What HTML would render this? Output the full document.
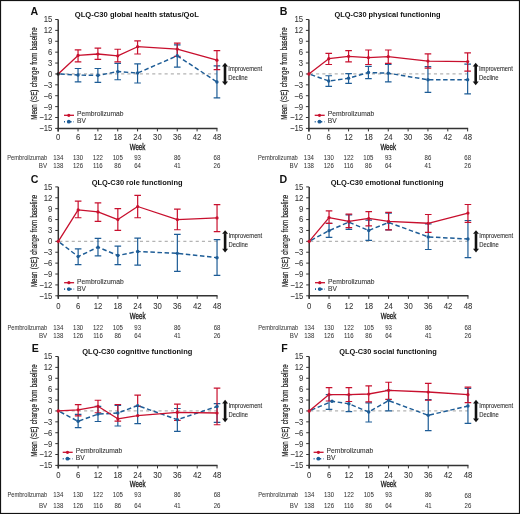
<!DOCTYPE html>
<html><head><meta charset="utf-8"><style>
html,body{margin:0;padding:0;background:#fff;}
body{width:520px;height:514px;overflow:hidden;}
svg{display:block;font-family:"Liberation Sans",sans-serif;will-change:transform;filter:blur(0.3px);}
</style></head><body>
<svg width="520" height="514" viewBox="0 0 520 514">
<rect x="0" y="0" width="520" height="514" fill="#fff"/>
<text x="30.60" y="15.00" font-size="10.6" font-weight="bold" fill="#111" textLength="7.66" lengthAdjust="spacingAndGlyphs">A</text>
<text x="74.80" y="17.40" font-size="7.6" font-weight="bold" fill="#111" textLength="124.00" lengthAdjust="spacingAndGlyphs">QLQ-C30 global health status/QoL</text>
<path d="M58.20 19.50V131.40" stroke="#333333" stroke-width="1.5" fill="none"/>
<path d="M55.20 128.40H58.20" stroke="#333333" stroke-width="1" fill="none"/>
<text x="39.18" y="131.30" font-size="8.6" fill="#333" stroke="#333" stroke-width="0.06" textLength="13.13" lengthAdjust="spacingAndGlyphs">−15</text>
<path d="M55.20 117.51H58.20" stroke="#333333" stroke-width="1" fill="none"/>
<text x="39.18" y="120.41" font-size="8.6" fill="#333" stroke="#333" stroke-width="0.06" textLength="13.13" lengthAdjust="spacingAndGlyphs">−12</text>
<path d="M55.20 106.62H58.20" stroke="#333333" stroke-width="1" fill="none"/>
<text x="43.48" y="109.52" font-size="8.6" fill="#333" stroke="#333" stroke-width="0.06" textLength="8.82" lengthAdjust="spacingAndGlyphs">−9</text>
<path d="M55.20 95.73H58.20" stroke="#333333" stroke-width="1" fill="none"/>
<text x="43.48" y="98.63" font-size="8.6" fill="#333" stroke="#333" stroke-width="0.06" textLength="8.82" lengthAdjust="spacingAndGlyphs">−6</text>
<path d="M55.20 84.84H58.20" stroke="#333333" stroke-width="1" fill="none"/>
<text x="43.48" y="87.74" font-size="8.6" fill="#333" stroke="#333" stroke-width="0.06" textLength="8.82" lengthAdjust="spacingAndGlyphs">−3</text>
<path d="M55.20 73.95H58.20" stroke="#333333" stroke-width="1" fill="none"/>
<text x="48.00" y="76.85" font-size="8.6" fill="#333" stroke="#333" stroke-width="0.06" textLength="4.30" lengthAdjust="spacingAndGlyphs">0</text>
<path d="M55.20 63.06H58.20" stroke="#333333" stroke-width="1" fill="none"/>
<text x="48.00" y="65.96" font-size="8.6" fill="#333" stroke="#333" stroke-width="0.06" textLength="4.30" lengthAdjust="spacingAndGlyphs">3</text>
<path d="M55.20 52.17H58.20" stroke="#333333" stroke-width="1" fill="none"/>
<text x="48.00" y="55.07" font-size="8.6" fill="#333" stroke="#333" stroke-width="0.06" textLength="4.30" lengthAdjust="spacingAndGlyphs">6</text>
<path d="M55.20 41.28H58.20" stroke="#333333" stroke-width="1" fill="none"/>
<text x="48.00" y="44.18" font-size="8.6" fill="#333" stroke="#333" stroke-width="0.06" textLength="4.30" lengthAdjust="spacingAndGlyphs">9</text>
<path d="M55.20 30.39H58.20" stroke="#333333" stroke-width="1" fill="none"/>
<text x="43.71" y="33.29" font-size="8.6" fill="#333" stroke="#333" stroke-width="0.06" textLength="8.61" lengthAdjust="spacingAndGlyphs">12</text>
<path d="M55.20 19.50H58.20" stroke="#333333" stroke-width="1" fill="none"/>
<text x="43.71" y="22.40" font-size="8.6" fill="#333" stroke="#333" stroke-width="0.06" textLength="8.61" lengthAdjust="spacingAndGlyphs">15</text>
<g transform="translate(36.70,73.50) rotate(-90)">
<text x="-46.15" y="0.00" font-size="9.3" fill="#1a1a1a" stroke="#1a1a1a" stroke-width="0.18" textLength="92.29" lengthAdjust="spacingAndGlyphs" word-spacing="1">Mean (SE) change from baseline</text>
</g>
<path d="M57.45 128.40H217.44" stroke="#333333" stroke-width="1.5" fill="none"/>
<path d="M58.20 128.40V131.40" stroke="#333333" stroke-width="1" fill="none"/>
<text x="56.05" y="139.80" font-size="8.6" fill="#333" stroke="#333" stroke-width="0.06" textLength="4.30" lengthAdjust="spacingAndGlyphs">0</text>
<path d="M78.04 128.40V131.40" stroke="#333333" stroke-width="1" fill="none"/>
<text x="75.89" y="139.80" font-size="8.6" fill="#333" stroke="#333" stroke-width="0.06" textLength="4.30" lengthAdjust="spacingAndGlyphs">6</text>
<path d="M97.88 128.40V131.40" stroke="#333333" stroke-width="1" fill="none"/>
<text x="93.59" y="139.80" font-size="8.6" fill="#333" stroke="#333" stroke-width="0.06" textLength="8.61" lengthAdjust="spacingAndGlyphs">12</text>
<path d="M117.73 128.40V131.40" stroke="#333333" stroke-width="1" fill="none"/>
<text x="113.43" y="139.80" font-size="8.6" fill="#333" stroke="#333" stroke-width="0.06" textLength="8.61" lengthAdjust="spacingAndGlyphs">18</text>
<path d="M137.57 128.40V131.40" stroke="#333333" stroke-width="1" fill="none"/>
<text x="133.27" y="139.80" font-size="8.6" fill="#333" stroke="#333" stroke-width="0.06" textLength="8.61" lengthAdjust="spacingAndGlyphs">24</text>
<path d="M157.41 128.40V131.40" stroke="#333333" stroke-width="1" fill="none"/>
<text x="153.11" y="139.80" font-size="8.6" fill="#333" stroke="#333" stroke-width="0.06" textLength="8.61" lengthAdjust="spacingAndGlyphs">30</text>
<path d="M177.25 128.40V131.40" stroke="#333333" stroke-width="1" fill="none"/>
<text x="172.96" y="139.80" font-size="8.6" fill="#333" stroke="#333" stroke-width="0.06" textLength="8.61" lengthAdjust="spacingAndGlyphs">36</text>
<path d="M197.09 128.40V131.40" stroke="#333333" stroke-width="1" fill="none"/>
<text x="192.80" y="139.80" font-size="8.6" fill="#333" stroke="#333" stroke-width="0.06" textLength="8.61" lengthAdjust="spacingAndGlyphs">42</text>
<path d="M216.94 128.40V131.40" stroke="#333333" stroke-width="1" fill="none"/>
<text x="212.64" y="139.80" font-size="8.6" fill="#333" stroke="#333" stroke-width="0.06" textLength="8.61" lengthAdjust="spacingAndGlyphs">48</text>
<text x="129.72" y="149.50" font-size="9.4" fill="#111" stroke="#111" stroke-width="0.3" textLength="15.66" lengthAdjust="spacingAndGlyphs">Week</text>
<text x="7.30" y="159.70" font-size="6.9" fill="#333" stroke="#333" stroke-width="0.03" textLength="39.79" lengthAdjust="spacingAndGlyphs">Pembrolizumab</text>
<text x="38.81" y="168.10" font-size="6.9" fill="#333" stroke="#333" stroke-width="0.03" textLength="8.28" lengthAdjust="spacingAndGlyphs">BV</text>
<text x="53.13" y="159.70" font-size="6.9" fill="#333" stroke="#333" stroke-width="0.03" textLength="10.13" lengthAdjust="spacingAndGlyphs">134</text>
<text x="53.13" y="168.10" font-size="6.9" fill="#333" stroke="#333" stroke-width="0.03" textLength="10.13" lengthAdjust="spacingAndGlyphs">138</text>
<text x="72.97" y="159.70" font-size="6.9" fill="#333" stroke="#333" stroke-width="0.03" textLength="10.13" lengthAdjust="spacingAndGlyphs">130</text>
<text x="72.97" y="168.10" font-size="6.9" fill="#333" stroke="#333" stroke-width="0.03" textLength="10.13" lengthAdjust="spacingAndGlyphs">126</text>
<text x="92.81" y="159.70" font-size="6.9" fill="#333" stroke="#333" stroke-width="0.03" textLength="10.13" lengthAdjust="spacingAndGlyphs">122</text>
<text x="93.04" y="168.10" font-size="6.9" fill="#333" stroke="#333" stroke-width="0.03" textLength="9.68" lengthAdjust="spacingAndGlyphs">116</text>
<text x="112.66" y="159.70" font-size="6.9" fill="#333" stroke="#333" stroke-width="0.03" textLength="10.13" lengthAdjust="spacingAndGlyphs">105</text>
<text x="114.36" y="168.10" font-size="6.9" fill="#333" stroke="#333" stroke-width="0.03" textLength="6.75" lengthAdjust="spacingAndGlyphs">86</text>
<text x="134.20" y="159.70" font-size="6.9" fill="#333" stroke="#333" stroke-width="0.03" textLength="6.75" lengthAdjust="spacingAndGlyphs">93</text>
<text x="134.20" y="168.10" font-size="6.9" fill="#333" stroke="#333" stroke-width="0.03" textLength="6.75" lengthAdjust="spacingAndGlyphs">64</text>
<text x="173.88" y="159.70" font-size="6.9" fill="#333" stroke="#333" stroke-width="0.03" textLength="6.75" lengthAdjust="spacingAndGlyphs">86</text>
<text x="173.88" y="168.10" font-size="6.9" fill="#333" stroke="#333" stroke-width="0.03" textLength="6.75" lengthAdjust="spacingAndGlyphs">41</text>
<text x="213.57" y="159.70" font-size="6.9" fill="#333" stroke="#333" stroke-width="0.03" textLength="6.75" lengthAdjust="spacingAndGlyphs">68</text>
<text x="213.57" y="168.10" font-size="6.9" fill="#333" stroke="#333" stroke-width="0.03" textLength="6.75" lengthAdjust="spacingAndGlyphs">26</text>
<path d="M59.20 73.95H216.94" stroke="#b4b4b4" stroke-width="1.3" stroke-dasharray="3.1 3.1" fill="none"/>
<path d="M225.00 65.95V81.95" stroke="#111" stroke-width="2.6" fill="none"/>
<path d="M222.00 66.45L225.00 62.75L228.00 66.45Z" fill="#111"/>
<path d="M222.00 81.45L225.00 85.15L228.00 81.45Z" fill="#111"/>
<text x="228.30" y="70.95" font-size="6.4" fill="#333" stroke="#333" stroke-width="0.1" textLength="33.80" lengthAdjust="spacingAndGlyphs">Improvement</text>
<text x="228.30" y="79.95" font-size="6.4" fill="#333" stroke="#333" stroke-width="0.1" textLength="19.60" lengthAdjust="spacingAndGlyphs">Decline</text>
<path d="M64.00 115.30h10" stroke="#c8102e" stroke-width="1.3"/>
<circle cx="68.80" cy="115.30" r="1.6" fill="#c8102e"/>
<path d="M64.00 121.70h10" stroke="#1d5c96" stroke-width="1.6" stroke-dasharray="1 2 4.6 2 1"/>
<circle cx="68.80" cy="121.70" r="1.9" fill="#1d5c96"/>
<text x="77.00" y="116.20" font-size="7.7" fill="#333" stroke="#333" stroke-width="0.1" textLength="46.58" lengthAdjust="spacingAndGlyphs">Pembrolizumab</text>
<text x="77.00" y="123.20" font-size="7.7" fill="#333" stroke="#333" stroke-width="0.1" textLength="8.89" lengthAdjust="spacingAndGlyphs">BV</text>
<path d="M78.04 68.50V81.94M74.74 68.50h6.6M74.74 81.94h6.6" stroke="#1d5c96" stroke-width="1.2" fill="none"/><path d="M97.88 68.50V82.30M94.58 68.50h6.6M94.58 82.30h6.6" stroke="#1d5c96" stroke-width="1.2" fill="none"/><path d="M117.73 63.42V79.76M114.43 63.42h6.6M114.43 79.76h6.6" stroke="#1d5c96" stroke-width="1.2" fill="none"/><path d="M137.57 63.79V83.02M134.27 63.79h6.6M134.27 83.02h6.6" stroke="#1d5c96" stroke-width="1.2" fill="none"/><path d="M177.25 44.91V67.05M173.95 44.91h6.6M173.95 67.05h6.6" stroke="#1d5c96" stroke-width="1.2" fill="none"/><path d="M216.94 65.96V97.91M213.64 65.96h6.6M213.64 97.91h6.6" stroke="#1d5c96" stroke-width="1.2" fill="none"/><path d="M78.04 49.81V61.97M74.74 49.81h6.6M74.74 61.97h6.6" stroke="#c8102e" stroke-width="1.2" fill="none"/><path d="M97.88 48.18V59.43M94.58 48.18h6.6M94.58 59.43h6.6" stroke="#c8102e" stroke-width="1.2" fill="none"/><path d="M117.73 49.27V61.97M114.43 49.27h6.6M114.43 61.97h6.6" stroke="#c8102e" stroke-width="1.2" fill="none"/><path d="M137.57 40.92V53.98M134.27 40.92h6.6M134.27 53.98h6.6" stroke="#c8102e" stroke-width="1.2" fill="none"/><path d="M177.25 43.09V56.34M173.95 43.09h6.6M173.95 56.34h6.6" stroke="#c8102e" stroke-width="1.2" fill="none"/><path d="M216.94 50.72V69.59M213.64 50.72h6.6M213.64 69.59h6.6" stroke="#c8102e" stroke-width="1.2" fill="none"/><path d="M58.20 73.95 L78.04 75.04 L97.88 75.40 L117.73 71.59 L137.57 73.04 L177.25 55.80 L216.94 81.94" stroke="#1d5c96" stroke-width="1.45" fill="none" stroke-dasharray="4.5 2.6" stroke-dashoffset="5.0" stroke-linejoin="round"/><path d="M58.20 73.95 L78.04 55.44 L97.88 53.98 L117.73 55.80 L137.57 46.72 L177.25 49.08 L216.94 60.16" stroke="#c8102e" stroke-width="1.3" fill="none" stroke-linejoin="round"/><circle cx="78.04" cy="75.04" r="1.7" fill="#1d5c96"/><circle cx="97.88" cy="75.40" r="1.7" fill="#1d5c96"/><circle cx="117.73" cy="71.59" r="1.7" fill="#1d5c96"/><circle cx="137.57" cy="73.04" r="1.7" fill="#1d5c96"/><circle cx="177.25" cy="55.80" r="1.7" fill="#1d5c96"/><circle cx="216.94" cy="81.94" r="1.7" fill="#1d5c96"/><circle cx="78.04" cy="55.44" r="1.6" fill="#c8102e"/><circle cx="97.88" cy="53.98" r="1.6" fill="#c8102e"/><circle cx="117.73" cy="55.80" r="1.6" fill="#c8102e"/><circle cx="137.57" cy="46.72" r="1.6" fill="#c8102e"/><circle cx="177.25" cy="49.08" r="1.6" fill="#c8102e"/><circle cx="216.94" cy="60.16" r="1.6" fill="#c8102e"/>
<circle cx="58.20" cy="73.95" r="1.7" fill="#222"/>
<text x="279.70" y="15.00" font-size="10.6" font-weight="bold" fill="#111" textLength="7.66" lengthAdjust="spacingAndGlyphs">B</text>
<text x="334.50" y="17.40" font-size="7.6" font-weight="bold" fill="#111" textLength="106.00" lengthAdjust="spacingAndGlyphs">QLQ-C30 physical functioning</text>
<path d="M308.90 19.50V131.40" stroke="#333333" stroke-width="1.5" fill="none"/>
<path d="M305.90 128.40H308.90" stroke="#333333" stroke-width="1" fill="none"/>
<text x="289.88" y="131.30" font-size="8.6" fill="#333" stroke="#333" stroke-width="0.06" textLength="13.13" lengthAdjust="spacingAndGlyphs">−15</text>
<path d="M305.90 117.51H308.90" stroke="#333333" stroke-width="1" fill="none"/>
<text x="289.88" y="120.41" font-size="8.6" fill="#333" stroke="#333" stroke-width="0.06" textLength="13.13" lengthAdjust="spacingAndGlyphs">−12</text>
<path d="M305.90 106.62H308.90" stroke="#333333" stroke-width="1" fill="none"/>
<text x="294.18" y="109.52" font-size="8.6" fill="#333" stroke="#333" stroke-width="0.06" textLength="8.82" lengthAdjust="spacingAndGlyphs">−9</text>
<path d="M305.90 95.73H308.90" stroke="#333333" stroke-width="1" fill="none"/>
<text x="294.18" y="98.63" font-size="8.6" fill="#333" stroke="#333" stroke-width="0.06" textLength="8.82" lengthAdjust="spacingAndGlyphs">−6</text>
<path d="M305.90 84.84H308.90" stroke="#333333" stroke-width="1" fill="none"/>
<text x="294.18" y="87.74" font-size="8.6" fill="#333" stroke="#333" stroke-width="0.06" textLength="8.82" lengthAdjust="spacingAndGlyphs">−3</text>
<path d="M305.90 73.95H308.90" stroke="#333333" stroke-width="1" fill="none"/>
<text x="298.70" y="76.85" font-size="8.6" fill="#333" stroke="#333" stroke-width="0.06" textLength="4.30" lengthAdjust="spacingAndGlyphs">0</text>
<path d="M305.90 63.06H308.90" stroke="#333333" stroke-width="1" fill="none"/>
<text x="298.70" y="65.96" font-size="8.6" fill="#333" stroke="#333" stroke-width="0.06" textLength="4.30" lengthAdjust="spacingAndGlyphs">3</text>
<path d="M305.90 52.17H308.90" stroke="#333333" stroke-width="1" fill="none"/>
<text x="298.70" y="55.07" font-size="8.6" fill="#333" stroke="#333" stroke-width="0.06" textLength="4.30" lengthAdjust="spacingAndGlyphs">6</text>
<path d="M305.90 41.28H308.90" stroke="#333333" stroke-width="1" fill="none"/>
<text x="298.70" y="44.18" font-size="8.6" fill="#333" stroke="#333" stroke-width="0.06" textLength="4.30" lengthAdjust="spacingAndGlyphs">9</text>
<path d="M305.90 30.39H308.90" stroke="#333333" stroke-width="1" fill="none"/>
<text x="294.41" y="33.29" font-size="8.6" fill="#333" stroke="#333" stroke-width="0.06" textLength="8.61" lengthAdjust="spacingAndGlyphs">12</text>
<path d="M305.90 19.50H308.90" stroke="#333333" stroke-width="1" fill="none"/>
<text x="294.41" y="22.40" font-size="8.6" fill="#333" stroke="#333" stroke-width="0.06" textLength="8.61" lengthAdjust="spacingAndGlyphs">15</text>
<g transform="translate(287.40,73.50) rotate(-90)">
<text x="-46.15" y="0.00" font-size="9.3" fill="#1a1a1a" stroke="#1a1a1a" stroke-width="0.18" textLength="92.29" lengthAdjust="spacingAndGlyphs" word-spacing="1">Mean (SE) change from baseline</text>
</g>
<path d="M308.15 128.40H468.14" stroke="#333333" stroke-width="1.5" fill="none"/>
<path d="M308.90 128.40V131.40" stroke="#333333" stroke-width="1" fill="none"/>
<text x="306.75" y="139.80" font-size="8.6" fill="#333" stroke="#333" stroke-width="0.06" textLength="4.30" lengthAdjust="spacingAndGlyphs">0</text>
<path d="M328.74 128.40V131.40" stroke="#333333" stroke-width="1" fill="none"/>
<text x="326.59" y="139.80" font-size="8.6" fill="#333" stroke="#333" stroke-width="0.06" textLength="4.30" lengthAdjust="spacingAndGlyphs">6</text>
<path d="M348.58 128.40V131.40" stroke="#333333" stroke-width="1" fill="none"/>
<text x="344.29" y="139.80" font-size="8.6" fill="#333" stroke="#333" stroke-width="0.06" textLength="8.61" lengthAdjust="spacingAndGlyphs">12</text>
<path d="M368.43 128.40V131.40" stroke="#333333" stroke-width="1" fill="none"/>
<text x="364.13" y="139.80" font-size="8.6" fill="#333" stroke="#333" stroke-width="0.06" textLength="8.61" lengthAdjust="spacingAndGlyphs">18</text>
<path d="M388.27 128.40V131.40" stroke="#333333" stroke-width="1" fill="none"/>
<text x="383.97" y="139.80" font-size="8.6" fill="#333" stroke="#333" stroke-width="0.06" textLength="8.61" lengthAdjust="spacingAndGlyphs">24</text>
<path d="M408.11 128.40V131.40" stroke="#333333" stroke-width="1" fill="none"/>
<text x="403.81" y="139.80" font-size="8.6" fill="#333" stroke="#333" stroke-width="0.06" textLength="8.61" lengthAdjust="spacingAndGlyphs">30</text>
<path d="M427.95 128.40V131.40" stroke="#333333" stroke-width="1" fill="none"/>
<text x="423.66" y="139.80" font-size="8.6" fill="#333" stroke="#333" stroke-width="0.06" textLength="8.61" lengthAdjust="spacingAndGlyphs">36</text>
<path d="M447.79 128.40V131.40" stroke="#333333" stroke-width="1" fill="none"/>
<text x="443.50" y="139.80" font-size="8.6" fill="#333" stroke="#333" stroke-width="0.06" textLength="8.61" lengthAdjust="spacingAndGlyphs">42</text>
<path d="M467.64 128.40V131.40" stroke="#333333" stroke-width="1" fill="none"/>
<text x="463.34" y="139.80" font-size="8.6" fill="#333" stroke="#333" stroke-width="0.06" textLength="8.61" lengthAdjust="spacingAndGlyphs">48</text>
<text x="380.42" y="149.50" font-size="9.4" fill="#111" stroke="#111" stroke-width="0.3" textLength="15.66" lengthAdjust="spacingAndGlyphs">Week</text>
<text x="258.00" y="159.70" font-size="6.9" fill="#333" stroke="#333" stroke-width="0.03" textLength="39.79" lengthAdjust="spacingAndGlyphs">Pembrolizumab</text>
<text x="289.51" y="168.10" font-size="6.9" fill="#333" stroke="#333" stroke-width="0.03" textLength="8.28" lengthAdjust="spacingAndGlyphs">BV</text>
<text x="303.83" y="159.70" font-size="6.9" fill="#333" stroke="#333" stroke-width="0.03" textLength="10.13" lengthAdjust="spacingAndGlyphs">134</text>
<text x="303.83" y="168.10" font-size="6.9" fill="#333" stroke="#333" stroke-width="0.03" textLength="10.13" lengthAdjust="spacingAndGlyphs">138</text>
<text x="323.67" y="159.70" font-size="6.9" fill="#333" stroke="#333" stroke-width="0.03" textLength="10.13" lengthAdjust="spacingAndGlyphs">130</text>
<text x="323.67" y="168.10" font-size="6.9" fill="#333" stroke="#333" stroke-width="0.03" textLength="10.13" lengthAdjust="spacingAndGlyphs">126</text>
<text x="343.51" y="159.70" font-size="6.9" fill="#333" stroke="#333" stroke-width="0.03" textLength="10.13" lengthAdjust="spacingAndGlyphs">122</text>
<text x="343.74" y="168.10" font-size="6.9" fill="#333" stroke="#333" stroke-width="0.03" textLength="9.68" lengthAdjust="spacingAndGlyphs">116</text>
<text x="363.36" y="159.70" font-size="6.9" fill="#333" stroke="#333" stroke-width="0.03" textLength="10.13" lengthAdjust="spacingAndGlyphs">105</text>
<text x="365.06" y="168.10" font-size="6.9" fill="#333" stroke="#333" stroke-width="0.03" textLength="6.75" lengthAdjust="spacingAndGlyphs">86</text>
<text x="384.90" y="159.70" font-size="6.9" fill="#333" stroke="#333" stroke-width="0.03" textLength="6.75" lengthAdjust="spacingAndGlyphs">93</text>
<text x="384.90" y="168.10" font-size="6.9" fill="#333" stroke="#333" stroke-width="0.03" textLength="6.75" lengthAdjust="spacingAndGlyphs">64</text>
<text x="424.58" y="159.70" font-size="6.9" fill="#333" stroke="#333" stroke-width="0.03" textLength="6.75" lengthAdjust="spacingAndGlyphs">86</text>
<text x="424.58" y="168.10" font-size="6.9" fill="#333" stroke="#333" stroke-width="0.03" textLength="6.75" lengthAdjust="spacingAndGlyphs">41</text>
<text x="464.27" y="159.70" font-size="6.9" fill="#333" stroke="#333" stroke-width="0.03" textLength="6.75" lengthAdjust="spacingAndGlyphs">68</text>
<text x="464.27" y="168.10" font-size="6.9" fill="#333" stroke="#333" stroke-width="0.03" textLength="6.75" lengthAdjust="spacingAndGlyphs">26</text>
<path d="M309.90 73.95H467.64" stroke="#b4b4b4" stroke-width="1.3" stroke-dasharray="3.1 3.1" fill="none"/>
<path d="M475.70 65.95V81.95" stroke="#111" stroke-width="2.6" fill="none"/>
<path d="M472.70 66.45L475.70 62.75L478.70 66.45Z" fill="#111"/>
<path d="M472.70 81.45L475.70 85.15L478.70 81.45Z" fill="#111"/>
<text x="479.00" y="70.95" font-size="6.4" fill="#333" stroke="#333" stroke-width="0.1" textLength="33.80" lengthAdjust="spacingAndGlyphs">Improvement</text>
<text x="479.00" y="79.95" font-size="6.4" fill="#333" stroke="#333" stroke-width="0.1" textLength="19.60" lengthAdjust="spacingAndGlyphs">Decline</text>
<path d="M314.70 115.30h10" stroke="#c8102e" stroke-width="1.3"/>
<circle cx="319.50" cy="115.30" r="1.6" fill="#c8102e"/>
<path d="M314.70 121.70h10" stroke="#1d5c96" stroke-width="1.6" stroke-dasharray="1 2 4.6 2 1"/>
<circle cx="319.50" cy="121.70" r="1.9" fill="#1d5c96"/>
<text x="327.70" y="116.20" font-size="7.7" fill="#333" stroke="#333" stroke-width="0.1" textLength="46.58" lengthAdjust="spacingAndGlyphs">Pembrolizumab</text>
<text x="327.70" y="123.20" font-size="7.7" fill="#333" stroke="#333" stroke-width="0.1" textLength="8.89" lengthAdjust="spacingAndGlyphs">BV</text>
<path d="M328.74 75.76V86.29M325.44 75.76h6.6M325.44 86.29h6.6" stroke="#1d5c96" stroke-width="1.2" fill="none"/><path d="M348.58 73.59V83.39M345.28 73.59h6.6M345.28 83.39h6.6" stroke="#1d5c96" stroke-width="1.2" fill="none"/><path d="M368.43 66.33V78.67M365.13 66.33h6.6M365.13 78.67h6.6" stroke="#1d5c96" stroke-width="1.2" fill="none"/><path d="M388.27 64.51V81.94M384.97 64.51h6.6M384.97 81.94h6.6" stroke="#1d5c96" stroke-width="1.2" fill="none"/><path d="M427.95 66.69V92.46M424.65 66.69h6.6M424.65 92.46h6.6" stroke="#1d5c96" stroke-width="1.2" fill="none"/><path d="M467.64 64.15V93.91M464.34 64.15h6.6M464.34 93.91h6.6" stroke="#1d5c96" stroke-width="1.2" fill="none"/><path d="M328.74 53.44V64.51M325.44 53.44h6.6M325.44 64.51h6.6" stroke="#c8102e" stroke-width="1.2" fill="none"/><path d="M348.58 50.54V61.97M345.28 50.54h6.6M345.28 61.97h6.6" stroke="#c8102e" stroke-width="1.2" fill="none"/><path d="M368.43 49.99V64.51M365.13 49.99h6.6M365.13 64.51h6.6" stroke="#c8102e" stroke-width="1.2" fill="none"/><path d="M388.27 49.99V63.42M384.97 49.99h6.6M384.97 63.42h6.6" stroke="#c8102e" stroke-width="1.2" fill="none"/><path d="M427.95 53.80V68.14M424.65 53.80h6.6M424.65 68.14h6.6" stroke="#c8102e" stroke-width="1.2" fill="none"/><path d="M467.64 52.90V71.05M464.34 52.90h6.6M464.34 71.05h6.6" stroke="#c8102e" stroke-width="1.2" fill="none"/><path d="M308.90 73.95 L328.74 81.03 L348.58 78.31 L368.43 72.50 L388.27 73.22 L427.95 79.76 L467.64 79.76" stroke="#1d5c96" stroke-width="1.45" fill="none" stroke-dasharray="4.5 2.6" stroke-dashoffset="5.0" stroke-linejoin="round"/><path d="M308.90 73.95 L328.74 58.70 L348.58 56.34 L368.43 57.61 L388.27 56.53 L427.95 61.06 L467.64 61.61" stroke="#c8102e" stroke-width="1.3" fill="none" stroke-linejoin="round"/><circle cx="328.74" cy="81.03" r="1.7" fill="#1d5c96"/><circle cx="348.58" cy="78.31" r="1.7" fill="#1d5c96"/><circle cx="368.43" cy="72.50" r="1.7" fill="#1d5c96"/><circle cx="388.27" cy="73.22" r="1.7" fill="#1d5c96"/><circle cx="427.95" cy="79.76" r="1.7" fill="#1d5c96"/><circle cx="467.64" cy="79.76" r="1.7" fill="#1d5c96"/><circle cx="328.74" cy="58.70" r="1.6" fill="#c8102e"/><circle cx="348.58" cy="56.34" r="1.6" fill="#c8102e"/><circle cx="368.43" cy="57.61" r="1.6" fill="#c8102e"/><circle cx="388.27" cy="56.53" r="1.6" fill="#c8102e"/><circle cx="427.95" cy="61.06" r="1.6" fill="#c8102e"/><circle cx="467.64" cy="61.61" r="1.6" fill="#c8102e"/>
<circle cx="308.90" cy="73.95" r="1.7" fill="#c8102e"/>
<text x="30.80" y="182.60" font-size="10.6" font-weight="bold" fill="#111" textLength="7.66" lengthAdjust="spacingAndGlyphs">C</text>
<text x="91.70" y="184.80" font-size="7.6" font-weight="bold" fill="#111" textLength="90.81" lengthAdjust="spacingAndGlyphs">QLQ-C30 role functioning</text>
<path d="M58.30 186.90V298.80" stroke="#333333" stroke-width="1.5" fill="none"/>
<path d="M55.30 295.80H58.30" stroke="#333333" stroke-width="1" fill="none"/>
<text x="39.28" y="298.70" font-size="8.6" fill="#333" stroke="#333" stroke-width="0.06" textLength="13.13" lengthAdjust="spacingAndGlyphs">−15</text>
<path d="M55.30 284.91H58.30" stroke="#333333" stroke-width="1" fill="none"/>
<text x="39.28" y="287.81" font-size="8.6" fill="#333" stroke="#333" stroke-width="0.06" textLength="13.13" lengthAdjust="spacingAndGlyphs">−12</text>
<path d="M55.30 274.02H58.30" stroke="#333333" stroke-width="1" fill="none"/>
<text x="43.58" y="276.92" font-size="8.6" fill="#333" stroke="#333" stroke-width="0.06" textLength="8.82" lengthAdjust="spacingAndGlyphs">−9</text>
<path d="M55.30 263.13H58.30" stroke="#333333" stroke-width="1" fill="none"/>
<text x="43.58" y="266.03" font-size="8.6" fill="#333" stroke="#333" stroke-width="0.06" textLength="8.82" lengthAdjust="spacingAndGlyphs">−6</text>
<path d="M55.30 252.24H58.30" stroke="#333333" stroke-width="1" fill="none"/>
<text x="43.58" y="255.14" font-size="8.6" fill="#333" stroke="#333" stroke-width="0.06" textLength="8.82" lengthAdjust="spacingAndGlyphs">−3</text>
<path d="M55.30 241.35H58.30" stroke="#333333" stroke-width="1" fill="none"/>
<text x="48.10" y="244.25" font-size="8.6" fill="#333" stroke="#333" stroke-width="0.06" textLength="4.30" lengthAdjust="spacingAndGlyphs">0</text>
<path d="M55.30 230.46H58.30" stroke="#333333" stroke-width="1" fill="none"/>
<text x="48.10" y="233.36" font-size="8.6" fill="#333" stroke="#333" stroke-width="0.06" textLength="4.30" lengthAdjust="spacingAndGlyphs">3</text>
<path d="M55.30 219.57H58.30" stroke="#333333" stroke-width="1" fill="none"/>
<text x="48.10" y="222.47" font-size="8.6" fill="#333" stroke="#333" stroke-width="0.06" textLength="4.30" lengthAdjust="spacingAndGlyphs">6</text>
<path d="M55.30 208.68H58.30" stroke="#333333" stroke-width="1" fill="none"/>
<text x="48.10" y="211.58" font-size="8.6" fill="#333" stroke="#333" stroke-width="0.06" textLength="4.30" lengthAdjust="spacingAndGlyphs">9</text>
<path d="M55.30 197.79H58.30" stroke="#333333" stroke-width="1" fill="none"/>
<text x="43.81" y="200.69" font-size="8.6" fill="#333" stroke="#333" stroke-width="0.06" textLength="8.61" lengthAdjust="spacingAndGlyphs">12</text>
<path d="M55.30 186.90H58.30" stroke="#333333" stroke-width="1" fill="none"/>
<text x="43.81" y="189.80" font-size="8.6" fill="#333" stroke="#333" stroke-width="0.06" textLength="8.61" lengthAdjust="spacingAndGlyphs">15</text>
<g transform="translate(36.80,240.90) rotate(-90)">
<text x="-46.15" y="0.00" font-size="9.3" fill="#1a1a1a" stroke="#1a1a1a" stroke-width="0.18" textLength="92.29" lengthAdjust="spacingAndGlyphs" word-spacing="1">Mean (SE) change from baseline</text>
</g>
<path d="M57.55 295.80H217.54" stroke="#333333" stroke-width="1.5" fill="none"/>
<path d="M58.30 295.80V298.80" stroke="#333333" stroke-width="1" fill="none"/>
<text x="56.15" y="308.90" font-size="8.6" fill="#333" stroke="#333" stroke-width="0.06" textLength="4.30" lengthAdjust="spacingAndGlyphs">0</text>
<path d="M78.14 295.80V298.80" stroke="#333333" stroke-width="1" fill="none"/>
<text x="75.99" y="308.90" font-size="8.6" fill="#333" stroke="#333" stroke-width="0.06" textLength="4.30" lengthAdjust="spacingAndGlyphs">6</text>
<path d="M97.98 295.80V298.80" stroke="#333333" stroke-width="1" fill="none"/>
<text x="93.69" y="308.90" font-size="8.6" fill="#333" stroke="#333" stroke-width="0.06" textLength="8.61" lengthAdjust="spacingAndGlyphs">12</text>
<path d="M117.83 295.80V298.80" stroke="#333333" stroke-width="1" fill="none"/>
<text x="113.53" y="308.90" font-size="8.6" fill="#333" stroke="#333" stroke-width="0.06" textLength="8.61" lengthAdjust="spacingAndGlyphs">18</text>
<path d="M137.67 295.80V298.80" stroke="#333333" stroke-width="1" fill="none"/>
<text x="133.37" y="308.90" font-size="8.6" fill="#333" stroke="#333" stroke-width="0.06" textLength="8.61" lengthAdjust="spacingAndGlyphs">24</text>
<path d="M157.51 295.80V298.80" stroke="#333333" stroke-width="1" fill="none"/>
<text x="153.21" y="308.90" font-size="8.6" fill="#333" stroke="#333" stroke-width="0.06" textLength="8.61" lengthAdjust="spacingAndGlyphs">30</text>
<path d="M177.35 295.80V298.80" stroke="#333333" stroke-width="1" fill="none"/>
<text x="173.06" y="308.90" font-size="8.6" fill="#333" stroke="#333" stroke-width="0.06" textLength="8.61" lengthAdjust="spacingAndGlyphs">36</text>
<path d="M197.19 295.80V298.80" stroke="#333333" stroke-width="1" fill="none"/>
<text x="192.90" y="308.90" font-size="8.6" fill="#333" stroke="#333" stroke-width="0.06" textLength="8.61" lengthAdjust="spacingAndGlyphs">42</text>
<path d="M217.04 295.80V298.80" stroke="#333333" stroke-width="1" fill="none"/>
<text x="212.74" y="308.90" font-size="8.6" fill="#333" stroke="#333" stroke-width="0.06" textLength="8.61" lengthAdjust="spacingAndGlyphs">48</text>
<text x="129.82" y="318.90" font-size="9.4" fill="#111" stroke="#111" stroke-width="0.3" textLength="15.66" lengthAdjust="spacingAndGlyphs">Week</text>
<text x="7.40" y="329.90" font-size="6.9" fill="#333" stroke="#333" stroke-width="0.03" textLength="39.79" lengthAdjust="spacingAndGlyphs">Pembrolizumab</text>
<text x="38.91" y="337.60" font-size="6.9" fill="#333" stroke="#333" stroke-width="0.03" textLength="8.28" lengthAdjust="spacingAndGlyphs">BV</text>
<text x="53.23" y="329.90" font-size="6.9" fill="#333" stroke="#333" stroke-width="0.03" textLength="10.13" lengthAdjust="spacingAndGlyphs">134</text>
<text x="53.23" y="337.60" font-size="6.9" fill="#333" stroke="#333" stroke-width="0.03" textLength="10.13" lengthAdjust="spacingAndGlyphs">138</text>
<text x="73.07" y="329.90" font-size="6.9" fill="#333" stroke="#333" stroke-width="0.03" textLength="10.13" lengthAdjust="spacingAndGlyphs">130</text>
<text x="73.07" y="337.60" font-size="6.9" fill="#333" stroke="#333" stroke-width="0.03" textLength="10.13" lengthAdjust="spacingAndGlyphs">126</text>
<text x="92.91" y="329.90" font-size="6.9" fill="#333" stroke="#333" stroke-width="0.03" textLength="10.13" lengthAdjust="spacingAndGlyphs">122</text>
<text x="93.14" y="337.60" font-size="6.9" fill="#333" stroke="#333" stroke-width="0.03" textLength="9.68" lengthAdjust="spacingAndGlyphs">116</text>
<text x="112.76" y="329.90" font-size="6.9" fill="#333" stroke="#333" stroke-width="0.03" textLength="10.13" lengthAdjust="spacingAndGlyphs">105</text>
<text x="114.46" y="337.60" font-size="6.9" fill="#333" stroke="#333" stroke-width="0.03" textLength="6.75" lengthAdjust="spacingAndGlyphs">86</text>
<text x="134.30" y="329.90" font-size="6.9" fill="#333" stroke="#333" stroke-width="0.03" textLength="6.75" lengthAdjust="spacingAndGlyphs">93</text>
<text x="134.30" y="337.60" font-size="6.9" fill="#333" stroke="#333" stroke-width="0.03" textLength="6.75" lengthAdjust="spacingAndGlyphs">64</text>
<text x="173.98" y="329.90" font-size="6.9" fill="#333" stroke="#333" stroke-width="0.03" textLength="6.75" lengthAdjust="spacingAndGlyphs">86</text>
<text x="173.98" y="337.60" font-size="6.9" fill="#333" stroke="#333" stroke-width="0.03" textLength="6.75" lengthAdjust="spacingAndGlyphs">41</text>
<text x="213.67" y="329.90" font-size="6.9" fill="#333" stroke="#333" stroke-width="0.03" textLength="6.75" lengthAdjust="spacingAndGlyphs">68</text>
<text x="213.67" y="337.60" font-size="6.9" fill="#333" stroke="#333" stroke-width="0.03" textLength="6.75" lengthAdjust="spacingAndGlyphs">26</text>
<path d="M59.30 241.35H217.04" stroke="#b4b4b4" stroke-width="1.3" stroke-dasharray="3.1 3.1" fill="none"/>
<path d="M225.10 233.35V249.35" stroke="#111" stroke-width="2.6" fill="none"/>
<path d="M222.10 233.85L225.10 230.15L228.10 233.85Z" fill="#111"/>
<path d="M222.10 248.85L225.10 252.55L228.10 248.85Z" fill="#111"/>
<text x="228.40" y="238.35" font-size="6.4" fill="#333" stroke="#333" stroke-width="0.1" textLength="33.80" lengthAdjust="spacingAndGlyphs">Improvement</text>
<text x="228.40" y="247.35" font-size="6.4" fill="#333" stroke="#333" stroke-width="0.1" textLength="19.60" lengthAdjust="spacingAndGlyphs">Decline</text>
<path d="M64.10 282.70h10" stroke="#c8102e" stroke-width="1.3"/>
<circle cx="68.90" cy="282.70" r="1.6" fill="#c8102e"/>
<path d="M64.10 289.10h10" stroke="#1d5c96" stroke-width="1.6" stroke-dasharray="1 2 4.6 2 1"/>
<circle cx="68.90" cy="289.10" r="1.9" fill="#1d5c96"/>
<text x="77.10" y="283.60" font-size="7.7" fill="#333" stroke="#333" stroke-width="0.1" textLength="46.58" lengthAdjust="spacingAndGlyphs">Pembrolizumab</text>
<text x="77.10" y="290.60" font-size="7.7" fill="#333" stroke="#333" stroke-width="0.1" textLength="8.89" lengthAdjust="spacingAndGlyphs">BV</text>
<path d="M78.14 248.79V264.58M74.84 248.79h6.6M74.84 264.58h6.6" stroke="#1d5c96" stroke-width="1.2" fill="none"/><path d="M97.98 238.45V255.87M94.68 238.45h6.6M94.68 255.87h6.6" stroke="#1d5c96" stroke-width="1.2" fill="none"/><path d="M117.83 246.07V264.58M114.53 246.07h6.6M114.53 264.58h6.6" stroke="#1d5c96" stroke-width="1.2" fill="none"/><path d="M137.67 238.08V265.13M134.37 238.08h6.6M134.37 265.13h6.6" stroke="#1d5c96" stroke-width="1.2" fill="none"/><path d="M177.35 234.45V271.30M174.05 234.45h6.6M174.05 271.30h6.6" stroke="#1d5c96" stroke-width="1.2" fill="none"/><path d="M217.04 239.72V275.47M213.74 239.72h6.6M213.74 275.47h6.6" stroke="#1d5c96" stroke-width="1.2" fill="none"/><path d="M78.14 201.06V217.75M74.84 201.06h6.6M74.84 217.75h6.6" stroke="#c8102e" stroke-width="1.2" fill="none"/><path d="M97.98 202.87V221.38M94.68 202.87h6.6M94.68 221.38h6.6" stroke="#c8102e" stroke-width="1.2" fill="none"/><path d="M117.83 208.68V230.46M114.53 208.68h6.6M114.53 230.46h6.6" stroke="#c8102e" stroke-width="1.2" fill="none"/><path d="M137.67 195.43V217.75M134.37 195.43h6.6M134.37 217.75h6.6" stroke="#c8102e" stroke-width="1.2" fill="none"/><path d="M177.35 209.04V229.73M174.05 209.04h6.6M174.05 229.73h6.6" stroke="#c8102e" stroke-width="1.2" fill="none"/><path d="M217.04 204.69V231.55M213.74 204.69h6.6M213.74 231.55h6.6" stroke="#c8102e" stroke-width="1.2" fill="none"/><path d="M58.30 241.35 L78.14 256.60 L97.98 247.16 L117.83 255.51 L137.67 251.51 L177.35 253.33 L217.04 257.69" stroke="#1d5c96" stroke-width="1.45" fill="none" stroke-dasharray="4.5 2.6" stroke-dashoffset="5.0" stroke-linejoin="round"/><path d="M58.30 241.35 L78.14 209.91 L97.98 211.95 L117.83 219.57 L137.67 206.50 L177.35 219.57 L217.04 217.94" stroke="#c8102e" stroke-width="1.3" fill="none" stroke-linejoin="round"/><circle cx="78.14" cy="256.60" r="1.7" fill="#1d5c96"/><circle cx="97.98" cy="247.16" r="1.7" fill="#1d5c96"/><circle cx="117.83" cy="255.51" r="1.7" fill="#1d5c96"/><circle cx="137.67" cy="251.51" r="1.7" fill="#1d5c96"/><circle cx="177.35" cy="253.33" r="1.7" fill="#1d5c96"/><circle cx="217.04" cy="257.69" r="1.7" fill="#1d5c96"/><circle cx="78.14" cy="209.91" r="1.6" fill="#c8102e"/><circle cx="97.98" cy="211.95" r="1.6" fill="#c8102e"/><circle cx="117.83" cy="219.57" r="1.6" fill="#c8102e"/><circle cx="137.67" cy="206.50" r="1.6" fill="#c8102e"/><circle cx="177.35" cy="219.57" r="1.6" fill="#c8102e"/><circle cx="217.04" cy="217.94" r="1.6" fill="#c8102e"/>
<circle cx="58.30" cy="241.35" r="1.7" fill="#c8102e"/>
<text x="279.60" y="182.60" font-size="10.6" font-weight="bold" fill="#111" textLength="7.66" lengthAdjust="spacingAndGlyphs">D</text>
<text x="330.65" y="184.80" font-size="7.6" font-weight="bold" fill="#111" textLength="112.90" lengthAdjust="spacingAndGlyphs">QLQ-C30 emotional functioning</text>
<path d="M309.20 186.90V298.80" stroke="#333333" stroke-width="1.5" fill="none"/>
<path d="M306.20 295.80H309.20" stroke="#333333" stroke-width="1" fill="none"/>
<text x="290.18" y="298.70" font-size="8.6" fill="#333" stroke="#333" stroke-width="0.06" textLength="13.13" lengthAdjust="spacingAndGlyphs">−15</text>
<path d="M306.20 284.91H309.20" stroke="#333333" stroke-width="1" fill="none"/>
<text x="290.18" y="287.81" font-size="8.6" fill="#333" stroke="#333" stroke-width="0.06" textLength="13.13" lengthAdjust="spacingAndGlyphs">−12</text>
<path d="M306.20 274.02H309.20" stroke="#333333" stroke-width="1" fill="none"/>
<text x="294.48" y="276.92" font-size="8.6" fill="#333" stroke="#333" stroke-width="0.06" textLength="8.82" lengthAdjust="spacingAndGlyphs">−9</text>
<path d="M306.20 263.13H309.20" stroke="#333333" stroke-width="1" fill="none"/>
<text x="294.48" y="266.03" font-size="8.6" fill="#333" stroke="#333" stroke-width="0.06" textLength="8.82" lengthAdjust="spacingAndGlyphs">−6</text>
<path d="M306.20 252.24H309.20" stroke="#333333" stroke-width="1" fill="none"/>
<text x="294.48" y="255.14" font-size="8.6" fill="#333" stroke="#333" stroke-width="0.06" textLength="8.82" lengthAdjust="spacingAndGlyphs">−3</text>
<path d="M306.20 241.35H309.20" stroke="#333333" stroke-width="1" fill="none"/>
<text x="299.00" y="244.25" font-size="8.6" fill="#333" stroke="#333" stroke-width="0.06" textLength="4.30" lengthAdjust="spacingAndGlyphs">0</text>
<path d="M306.20 230.46H309.20" stroke="#333333" stroke-width="1" fill="none"/>
<text x="299.00" y="233.36" font-size="8.6" fill="#333" stroke="#333" stroke-width="0.06" textLength="4.30" lengthAdjust="spacingAndGlyphs">3</text>
<path d="M306.20 219.57H309.20" stroke="#333333" stroke-width="1" fill="none"/>
<text x="299.00" y="222.47" font-size="8.6" fill="#333" stroke="#333" stroke-width="0.06" textLength="4.30" lengthAdjust="spacingAndGlyphs">6</text>
<path d="M306.20 208.68H309.20" stroke="#333333" stroke-width="1" fill="none"/>
<text x="299.00" y="211.58" font-size="8.6" fill="#333" stroke="#333" stroke-width="0.06" textLength="4.30" lengthAdjust="spacingAndGlyphs">9</text>
<path d="M306.20 197.79H309.20" stroke="#333333" stroke-width="1" fill="none"/>
<text x="294.71" y="200.69" font-size="8.6" fill="#333" stroke="#333" stroke-width="0.06" textLength="8.61" lengthAdjust="spacingAndGlyphs">12</text>
<path d="M306.20 186.90H309.20" stroke="#333333" stroke-width="1" fill="none"/>
<text x="294.71" y="189.80" font-size="8.6" fill="#333" stroke="#333" stroke-width="0.06" textLength="8.61" lengthAdjust="spacingAndGlyphs">15</text>
<g transform="translate(287.70,240.90) rotate(-90)">
<text x="-46.15" y="0.00" font-size="9.3" fill="#1a1a1a" stroke="#1a1a1a" stroke-width="0.18" textLength="92.29" lengthAdjust="spacingAndGlyphs" word-spacing="1">Mean (SE) change from baseline</text>
</g>
<path d="M308.45 295.80H468.44" stroke="#333333" stroke-width="1.5" fill="none"/>
<path d="M309.20 295.80V298.80" stroke="#333333" stroke-width="1" fill="none"/>
<text x="307.05" y="308.90" font-size="8.6" fill="#333" stroke="#333" stroke-width="0.06" textLength="4.30" lengthAdjust="spacingAndGlyphs">0</text>
<path d="M329.04 295.80V298.80" stroke="#333333" stroke-width="1" fill="none"/>
<text x="326.89" y="308.90" font-size="8.6" fill="#333" stroke="#333" stroke-width="0.06" textLength="4.30" lengthAdjust="spacingAndGlyphs">6</text>
<path d="M348.88 295.80V298.80" stroke="#333333" stroke-width="1" fill="none"/>
<text x="344.59" y="308.90" font-size="8.6" fill="#333" stroke="#333" stroke-width="0.06" textLength="8.61" lengthAdjust="spacingAndGlyphs">12</text>
<path d="M368.73 295.80V298.80" stroke="#333333" stroke-width="1" fill="none"/>
<text x="364.43" y="308.90" font-size="8.6" fill="#333" stroke="#333" stroke-width="0.06" textLength="8.61" lengthAdjust="spacingAndGlyphs">18</text>
<path d="M388.57 295.80V298.80" stroke="#333333" stroke-width="1" fill="none"/>
<text x="384.27" y="308.90" font-size="8.6" fill="#333" stroke="#333" stroke-width="0.06" textLength="8.61" lengthAdjust="spacingAndGlyphs">24</text>
<path d="M408.41 295.80V298.80" stroke="#333333" stroke-width="1" fill="none"/>
<text x="404.11" y="308.90" font-size="8.6" fill="#333" stroke="#333" stroke-width="0.06" textLength="8.61" lengthAdjust="spacingAndGlyphs">30</text>
<path d="M428.25 295.80V298.80" stroke="#333333" stroke-width="1" fill="none"/>
<text x="423.96" y="308.90" font-size="8.6" fill="#333" stroke="#333" stroke-width="0.06" textLength="8.61" lengthAdjust="spacingAndGlyphs">36</text>
<path d="M448.09 295.80V298.80" stroke="#333333" stroke-width="1" fill="none"/>
<text x="443.80" y="308.90" font-size="8.6" fill="#333" stroke="#333" stroke-width="0.06" textLength="8.61" lengthAdjust="spacingAndGlyphs">42</text>
<path d="M467.94 295.80V298.80" stroke="#333333" stroke-width="1" fill="none"/>
<text x="463.64" y="308.90" font-size="8.6" fill="#333" stroke="#333" stroke-width="0.06" textLength="8.61" lengthAdjust="spacingAndGlyphs">48</text>
<text x="380.72" y="318.90" font-size="9.4" fill="#111" stroke="#111" stroke-width="0.3" textLength="15.66" lengthAdjust="spacingAndGlyphs">Week</text>
<text x="258.30" y="329.90" font-size="6.9" fill="#333" stroke="#333" stroke-width="0.03" textLength="39.79" lengthAdjust="spacingAndGlyphs">Pembrolizumab</text>
<text x="289.81" y="337.60" font-size="6.9" fill="#333" stroke="#333" stroke-width="0.03" textLength="8.28" lengthAdjust="spacingAndGlyphs">BV</text>
<text x="304.13" y="329.90" font-size="6.9" fill="#333" stroke="#333" stroke-width="0.03" textLength="10.13" lengthAdjust="spacingAndGlyphs">134</text>
<text x="304.13" y="337.60" font-size="6.9" fill="#333" stroke="#333" stroke-width="0.03" textLength="10.13" lengthAdjust="spacingAndGlyphs">138</text>
<text x="323.97" y="329.90" font-size="6.9" fill="#333" stroke="#333" stroke-width="0.03" textLength="10.13" lengthAdjust="spacingAndGlyphs">130</text>
<text x="323.97" y="337.60" font-size="6.9" fill="#333" stroke="#333" stroke-width="0.03" textLength="10.13" lengthAdjust="spacingAndGlyphs">126</text>
<text x="343.81" y="329.90" font-size="6.9" fill="#333" stroke="#333" stroke-width="0.03" textLength="10.13" lengthAdjust="spacingAndGlyphs">122</text>
<text x="344.04" y="337.60" font-size="6.9" fill="#333" stroke="#333" stroke-width="0.03" textLength="9.68" lengthAdjust="spacingAndGlyphs">116</text>
<text x="363.66" y="329.90" font-size="6.9" fill="#333" stroke="#333" stroke-width="0.03" textLength="10.13" lengthAdjust="spacingAndGlyphs">105</text>
<text x="365.36" y="337.60" font-size="6.9" fill="#333" stroke="#333" stroke-width="0.03" textLength="6.75" lengthAdjust="spacingAndGlyphs">86</text>
<text x="385.20" y="329.90" font-size="6.9" fill="#333" stroke="#333" stroke-width="0.03" textLength="6.75" lengthAdjust="spacingAndGlyphs">93</text>
<text x="385.20" y="337.60" font-size="6.9" fill="#333" stroke="#333" stroke-width="0.03" textLength="6.75" lengthAdjust="spacingAndGlyphs">64</text>
<text x="424.88" y="329.90" font-size="6.9" fill="#333" stroke="#333" stroke-width="0.03" textLength="6.75" lengthAdjust="spacingAndGlyphs">86</text>
<text x="424.88" y="337.60" font-size="6.9" fill="#333" stroke="#333" stroke-width="0.03" textLength="6.75" lengthAdjust="spacingAndGlyphs">41</text>
<text x="464.57" y="329.90" font-size="6.9" fill="#333" stroke="#333" stroke-width="0.03" textLength="6.75" lengthAdjust="spacingAndGlyphs">68</text>
<text x="464.57" y="337.60" font-size="6.9" fill="#333" stroke="#333" stroke-width="0.03" textLength="6.75" lengthAdjust="spacingAndGlyphs">26</text>
<path d="M310.20 241.35H467.94" stroke="#b4b4b4" stroke-width="1.3" stroke-dasharray="3.1 3.1" fill="none"/>
<path d="M476.00 233.35V249.35" stroke="#111" stroke-width="2.6" fill="none"/>
<path d="M473.00 233.85L476.00 230.15L479.00 233.85Z" fill="#111"/>
<path d="M473.00 248.85L476.00 252.55L479.00 248.85Z" fill="#111"/>
<text x="479.30" y="238.35" font-size="6.4" fill="#333" stroke="#333" stroke-width="0.1" textLength="33.80" lengthAdjust="spacingAndGlyphs">Improvement</text>
<text x="479.30" y="247.35" font-size="6.4" fill="#333" stroke="#333" stroke-width="0.1" textLength="19.60" lengthAdjust="spacingAndGlyphs">Decline</text>
<path d="M315.00 282.70h10" stroke="#c8102e" stroke-width="1.3"/>
<circle cx="319.80" cy="282.70" r="1.6" fill="#c8102e"/>
<path d="M315.00 289.10h10" stroke="#1d5c96" stroke-width="1.6" stroke-dasharray="1 2 4.6 2 1"/>
<circle cx="319.80" cy="289.10" r="1.9" fill="#1d5c96"/>
<text x="328.00" y="283.60" font-size="7.7" fill="#333" stroke="#333" stroke-width="0.1" textLength="46.58" lengthAdjust="spacingAndGlyphs">Pembrolizumab</text>
<text x="328.00" y="290.60" font-size="7.7" fill="#333" stroke="#333" stroke-width="0.1" textLength="8.89" lengthAdjust="spacingAndGlyphs">BV</text>
<path d="M329.04 223.38V237.36M325.74 223.38h6.6M325.74 237.36h6.6" stroke="#1d5c96" stroke-width="1.2" fill="none"/><path d="M348.88 214.85V229.37M345.58 214.85h6.6M345.58 229.37h6.6" stroke="#1d5c96" stroke-width="1.2" fill="none"/><path d="M368.73 220.11V240.44M365.43 220.11h6.6M365.43 240.44h6.6" stroke="#1d5c96" stroke-width="1.2" fill="none"/><path d="M388.57 213.04V229.92M385.27 213.04h6.6M385.27 229.92h6.6" stroke="#1d5c96" stroke-width="1.2" fill="none"/><path d="M428.25 223.93V249.52M424.95 223.93h6.6M424.95 249.52h6.6" stroke="#1d5c96" stroke-width="1.2" fill="none"/><path d="M467.94 220.48V257.69M464.64 220.48h6.6M464.64 257.69h6.6" stroke="#1d5c96" stroke-width="1.2" fill="none"/><path d="M329.04 210.86V223.38M325.74 210.86h6.6M325.74 223.38h6.6" stroke="#c8102e" stroke-width="1.2" fill="none"/><path d="M348.88 214.12V227.56M345.58 214.12h6.6M345.58 227.56h6.6" stroke="#c8102e" stroke-width="1.2" fill="none"/><path d="M368.73 211.58V225.92M365.43 211.58h6.6M365.43 225.92h6.6" stroke="#c8102e" stroke-width="1.2" fill="none"/><path d="M388.57 212.31V229.92M385.27 212.31h6.6M385.27 229.92h6.6" stroke="#c8102e" stroke-width="1.2" fill="none"/><path d="M428.25 214.49V232.28M424.95 214.49h6.6M424.95 232.28h6.6" stroke="#c8102e" stroke-width="1.2" fill="none"/><path d="M467.94 204.51V222.47M464.64 204.51h6.6M464.64 222.47h6.6" stroke="#c8102e" stroke-width="1.2" fill="none"/><path d="M309.20 241.35 L329.04 230.64 L348.88 222.11 L368.73 230.46 L388.57 222.47 L428.25 236.89 L467.94 238.99" stroke="#1d5c96" stroke-width="1.45" fill="none" stroke-dasharray="4.5 2.6" stroke-dashoffset="5.0" stroke-linejoin="round"/><path d="M309.20 241.35 L329.04 217.57 L348.88 221.38 L368.73 218.48 L388.57 221.38 L428.25 223.27 L467.94 213.04" stroke="#c8102e" stroke-width="1.3" fill="none" stroke-linejoin="round"/><circle cx="329.04" cy="230.64" r="1.7" fill="#1d5c96"/><circle cx="348.88" cy="222.11" r="1.7" fill="#1d5c96"/><circle cx="368.73" cy="230.46" r="1.7" fill="#1d5c96"/><circle cx="388.57" cy="222.47" r="1.7" fill="#1d5c96"/><circle cx="428.25" cy="236.89" r="1.7" fill="#1d5c96"/><circle cx="467.94" cy="238.99" r="1.7" fill="#1d5c96"/><circle cx="329.04" cy="217.57" r="1.6" fill="#c8102e"/><circle cx="348.88" cy="221.38" r="1.6" fill="#c8102e"/><circle cx="368.73" cy="218.48" r="1.6" fill="#c8102e"/><circle cx="388.57" cy="221.38" r="1.6" fill="#c8102e"/><circle cx="428.25" cy="223.27" r="1.6" fill="#c8102e"/><circle cx="467.94" cy="213.04" r="1.6" fill="#c8102e"/>
<circle cx="309.20" cy="241.35" r="1.7" fill="#c8102e"/>
<text x="31.70" y="352.20" font-size="10.6" font-weight="bold" fill="#111" textLength="7.07" lengthAdjust="spacingAndGlyphs">E</text>
<text x="82.30" y="354.40" font-size="7.6" font-weight="bold" fill="#111" textLength="109.98" lengthAdjust="spacingAndGlyphs">QLQ-C30 cognitive functioning</text>
<path d="M58.30 356.50V468.40" stroke="#333333" stroke-width="1.5" fill="none"/>
<path d="M55.30 465.40H58.30" stroke="#333333" stroke-width="1" fill="none"/>
<text x="39.28" y="468.30" font-size="8.6" fill="#333" stroke="#333" stroke-width="0.06" textLength="13.13" lengthAdjust="spacingAndGlyphs">−15</text>
<path d="M55.30 454.51H58.30" stroke="#333333" stroke-width="1" fill="none"/>
<text x="39.28" y="457.41" font-size="8.6" fill="#333" stroke="#333" stroke-width="0.06" textLength="13.13" lengthAdjust="spacingAndGlyphs">−12</text>
<path d="M55.30 443.62H58.30" stroke="#333333" stroke-width="1" fill="none"/>
<text x="43.58" y="446.52" font-size="8.6" fill="#333" stroke="#333" stroke-width="0.06" textLength="8.82" lengthAdjust="spacingAndGlyphs">−9</text>
<path d="M55.30 432.73H58.30" stroke="#333333" stroke-width="1" fill="none"/>
<text x="43.58" y="435.63" font-size="8.6" fill="#333" stroke="#333" stroke-width="0.06" textLength="8.82" lengthAdjust="spacingAndGlyphs">−6</text>
<path d="M55.30 421.84H58.30" stroke="#333333" stroke-width="1" fill="none"/>
<text x="43.58" y="424.74" font-size="8.6" fill="#333" stroke="#333" stroke-width="0.06" textLength="8.82" lengthAdjust="spacingAndGlyphs">−3</text>
<path d="M55.30 410.95H58.30" stroke="#333333" stroke-width="1" fill="none"/>
<text x="48.10" y="413.85" font-size="8.6" fill="#333" stroke="#333" stroke-width="0.06" textLength="4.30" lengthAdjust="spacingAndGlyphs">0</text>
<path d="M55.30 400.06H58.30" stroke="#333333" stroke-width="1" fill="none"/>
<text x="48.10" y="402.96" font-size="8.6" fill="#333" stroke="#333" stroke-width="0.06" textLength="4.30" lengthAdjust="spacingAndGlyphs">3</text>
<path d="M55.30 389.17H58.30" stroke="#333333" stroke-width="1" fill="none"/>
<text x="48.10" y="392.07" font-size="8.6" fill="#333" stroke="#333" stroke-width="0.06" textLength="4.30" lengthAdjust="spacingAndGlyphs">6</text>
<path d="M55.30 378.28H58.30" stroke="#333333" stroke-width="1" fill="none"/>
<text x="48.10" y="381.18" font-size="8.6" fill="#333" stroke="#333" stroke-width="0.06" textLength="4.30" lengthAdjust="spacingAndGlyphs">9</text>
<path d="M55.30 367.39H58.30" stroke="#333333" stroke-width="1" fill="none"/>
<text x="43.81" y="370.29" font-size="8.6" fill="#333" stroke="#333" stroke-width="0.06" textLength="8.61" lengthAdjust="spacingAndGlyphs">12</text>
<path d="M55.30 356.50H58.30" stroke="#333333" stroke-width="1" fill="none"/>
<text x="43.81" y="359.40" font-size="8.6" fill="#333" stroke="#333" stroke-width="0.06" textLength="8.61" lengthAdjust="spacingAndGlyphs">15</text>
<g transform="translate(36.80,410.50) rotate(-90)">
<text x="-46.15" y="0.00" font-size="9.3" fill="#1a1a1a" stroke="#1a1a1a" stroke-width="0.18" textLength="92.29" lengthAdjust="spacingAndGlyphs" word-spacing="1">Mean (SE) change from baseline</text>
</g>
<path d="M57.55 465.40H217.54" stroke="#333333" stroke-width="1.5" fill="none"/>
<path d="M58.30 465.40V468.40" stroke="#333333" stroke-width="1" fill="none"/>
<text x="56.15" y="478.10" font-size="8.6" fill="#333" stroke="#333" stroke-width="0.06" textLength="4.30" lengthAdjust="spacingAndGlyphs">0</text>
<path d="M78.14 465.40V468.40" stroke="#333333" stroke-width="1" fill="none"/>
<text x="75.99" y="478.10" font-size="8.6" fill="#333" stroke="#333" stroke-width="0.06" textLength="4.30" lengthAdjust="spacingAndGlyphs">6</text>
<path d="M97.98 465.40V468.40" stroke="#333333" stroke-width="1" fill="none"/>
<text x="93.69" y="478.10" font-size="8.6" fill="#333" stroke="#333" stroke-width="0.06" textLength="8.61" lengthAdjust="spacingAndGlyphs">12</text>
<path d="M117.83 465.40V468.40" stroke="#333333" stroke-width="1" fill="none"/>
<text x="113.53" y="478.10" font-size="8.6" fill="#333" stroke="#333" stroke-width="0.06" textLength="8.61" lengthAdjust="spacingAndGlyphs">18</text>
<path d="M137.67 465.40V468.40" stroke="#333333" stroke-width="1" fill="none"/>
<text x="133.37" y="478.10" font-size="8.6" fill="#333" stroke="#333" stroke-width="0.06" textLength="8.61" lengthAdjust="spacingAndGlyphs">24</text>
<path d="M157.51 465.40V468.40" stroke="#333333" stroke-width="1" fill="none"/>
<text x="153.21" y="478.10" font-size="8.6" fill="#333" stroke="#333" stroke-width="0.06" textLength="8.61" lengthAdjust="spacingAndGlyphs">30</text>
<path d="M177.35 465.40V468.40" stroke="#333333" stroke-width="1" fill="none"/>
<text x="173.06" y="478.10" font-size="8.6" fill="#333" stroke="#333" stroke-width="0.06" textLength="8.61" lengthAdjust="spacingAndGlyphs">36</text>
<path d="M197.19 465.40V468.40" stroke="#333333" stroke-width="1" fill="none"/>
<text x="192.90" y="478.10" font-size="8.6" fill="#333" stroke="#333" stroke-width="0.06" textLength="8.61" lengthAdjust="spacingAndGlyphs">42</text>
<path d="M217.04 465.40V468.40" stroke="#333333" stroke-width="1" fill="none"/>
<text x="212.74" y="478.10" font-size="8.6" fill="#333" stroke="#333" stroke-width="0.06" textLength="8.61" lengthAdjust="spacingAndGlyphs">48</text>
<text x="129.82" y="486.80" font-size="9.4" fill="#111" stroke="#111" stroke-width="0.3" textLength="15.66" lengthAdjust="spacingAndGlyphs">Week</text>
<text x="7.40" y="496.50" font-size="6.9" fill="#333" stroke="#333" stroke-width="0.03" textLength="39.79" lengthAdjust="spacingAndGlyphs">Pembrolizumab</text>
<text x="38.91" y="508.00" font-size="6.9" fill="#333" stroke="#333" stroke-width="0.03" textLength="8.28" lengthAdjust="spacingAndGlyphs">BV</text>
<text x="53.23" y="496.50" font-size="6.9" fill="#333" stroke="#333" stroke-width="0.03" textLength="10.13" lengthAdjust="spacingAndGlyphs">134</text>
<text x="53.23" y="508.00" font-size="6.9" fill="#333" stroke="#333" stroke-width="0.03" textLength="10.13" lengthAdjust="spacingAndGlyphs">138</text>
<text x="73.07" y="496.50" font-size="6.9" fill="#333" stroke="#333" stroke-width="0.03" textLength="10.13" lengthAdjust="spacingAndGlyphs">130</text>
<text x="73.07" y="508.00" font-size="6.9" fill="#333" stroke="#333" stroke-width="0.03" textLength="10.13" lengthAdjust="spacingAndGlyphs">126</text>
<text x="92.91" y="496.50" font-size="6.9" fill="#333" stroke="#333" stroke-width="0.03" textLength="10.13" lengthAdjust="spacingAndGlyphs">122</text>
<text x="93.14" y="508.00" font-size="6.9" fill="#333" stroke="#333" stroke-width="0.03" textLength="9.68" lengthAdjust="spacingAndGlyphs">116</text>
<text x="112.76" y="496.50" font-size="6.9" fill="#333" stroke="#333" stroke-width="0.03" textLength="10.13" lengthAdjust="spacingAndGlyphs">105</text>
<text x="114.46" y="508.00" font-size="6.9" fill="#333" stroke="#333" stroke-width="0.03" textLength="6.75" lengthAdjust="spacingAndGlyphs">86</text>
<text x="134.30" y="496.50" font-size="6.9" fill="#333" stroke="#333" stroke-width="0.03" textLength="6.75" lengthAdjust="spacingAndGlyphs">93</text>
<text x="134.30" y="508.00" font-size="6.9" fill="#333" stroke="#333" stroke-width="0.03" textLength="6.75" lengthAdjust="spacingAndGlyphs">64</text>
<text x="173.98" y="496.50" font-size="6.9" fill="#333" stroke="#333" stroke-width="0.03" textLength="6.75" lengthAdjust="spacingAndGlyphs">86</text>
<text x="173.98" y="508.00" font-size="6.9" fill="#333" stroke="#333" stroke-width="0.03" textLength="6.75" lengthAdjust="spacingAndGlyphs">41</text>
<text x="213.67" y="496.50" font-size="6.9" fill="#333" stroke="#333" stroke-width="0.03" textLength="6.75" lengthAdjust="spacingAndGlyphs">68</text>
<text x="213.67" y="508.00" font-size="6.9" fill="#333" stroke="#333" stroke-width="0.03" textLength="6.75" lengthAdjust="spacingAndGlyphs">26</text>
<path d="M59.30 410.95H217.04" stroke="#b4b4b4" stroke-width="1.3" stroke-dasharray="3.1 3.1" fill="none"/>
<path d="M225.10 402.95V418.95" stroke="#111" stroke-width="2.6" fill="none"/>
<path d="M222.10 403.45L225.10 399.75L228.10 403.45Z" fill="#111"/>
<path d="M222.10 418.45L225.10 422.15L228.10 418.45Z" fill="#111"/>
<text x="228.40" y="407.95" font-size="6.4" fill="#333" stroke="#333" stroke-width="0.1" textLength="33.80" lengthAdjust="spacingAndGlyphs">Improvement</text>
<text x="228.40" y="416.95" font-size="6.4" fill="#333" stroke="#333" stroke-width="0.1" textLength="19.60" lengthAdjust="spacingAndGlyphs">Decline</text>
<path d="M62.70 452.30h10" stroke="#c8102e" stroke-width="1.3"/>
<circle cx="67.50" cy="452.30" r="1.6" fill="#c8102e"/>
<path d="M62.70 458.70h10" stroke="#1d5c96" stroke-width="1.6" stroke-dasharray="1 2 4.6 2 1"/>
<circle cx="67.50" cy="458.70" r="1.9" fill="#1d5c96"/>
<text x="75.70" y="453.20" font-size="7.7" fill="#333" stroke="#333" stroke-width="0.1" textLength="46.58" lengthAdjust="spacingAndGlyphs">Pembrolizumab</text>
<text x="75.70" y="460.20" font-size="7.7" fill="#333" stroke="#333" stroke-width="0.1" textLength="8.89" lengthAdjust="spacingAndGlyphs">BV</text>
<path d="M78.14 414.40V427.65M74.84 414.40h6.6M74.84 427.65h6.6" stroke="#1d5c96" stroke-width="1.2" fill="none"/><path d="M97.98 406.30V421.48M94.68 406.30h6.6M94.68 421.48h6.6" stroke="#1d5c96" stroke-width="1.2" fill="none"/><path d="M117.83 405.50V426.01M114.53 405.50h6.6M114.53 426.01h6.6" stroke="#1d5c96" stroke-width="1.2" fill="none"/><path d="M137.67 406.41V423.65M134.37 406.41h6.6M134.37 423.65h6.6" stroke="#1d5c96" stroke-width="1.2" fill="none"/><path d="M177.35 408.52V431.39M174.05 408.52h6.6M174.05 431.39h6.6" stroke="#1d5c96" stroke-width="1.2" fill="none"/><path d="M217.04 403.69V422.38M213.74 403.69h6.6M213.74 422.38h6.6" stroke="#1d5c96" stroke-width="1.2" fill="none"/><path d="M78.14 404.60V415.85M74.84 404.60h6.6M74.84 415.85h6.6" stroke="#c8102e" stroke-width="1.2" fill="none"/><path d="M97.98 400.24V412.76M94.68 400.24h6.6M94.68 412.76h6.6" stroke="#c8102e" stroke-width="1.2" fill="none"/><path d="M117.83 404.49V421.11M114.53 404.49h6.6M114.53 421.11h6.6" stroke="#c8102e" stroke-width="1.2" fill="none"/><path d="M137.67 395.09V406.41M134.37 395.09h6.6M134.37 406.41h6.6" stroke="#c8102e" stroke-width="1.2" fill="none"/><path d="M177.35 404.20V420.39M174.05 404.20h6.6M174.05 420.39h6.6" stroke="#c8102e" stroke-width="1.2" fill="none"/><path d="M217.04 388.08V424.74M213.74 388.08h6.6M213.74 424.74h6.6" stroke="#c8102e" stroke-width="1.2" fill="none"/><path d="M58.30 410.95 L78.14 421.30 L97.98 414.11 L117.83 413.02 L137.67 405.61 L177.35 419.66 L217.04 406.49" stroke="#1d5c96" stroke-width="1.45" fill="none" stroke-dasharray="4.5 2.6" stroke-dashoffset="5.0" stroke-linejoin="round"/><path d="M58.30 410.95 L78.14 409.79 L97.98 406.30 L117.83 418.79 L137.67 415.56 L177.35 412.29 L217.04 412.98" stroke="#c8102e" stroke-width="1.3" fill="none" stroke-linejoin="round"/><circle cx="78.14" cy="421.30" r="1.7" fill="#1d5c96"/><circle cx="97.98" cy="414.11" r="1.7" fill="#1d5c96"/><circle cx="117.83" cy="413.02" r="1.7" fill="#1d5c96"/><circle cx="137.67" cy="405.61" r="1.7" fill="#1d5c96"/><circle cx="177.35" cy="419.66" r="1.7" fill="#1d5c96"/><circle cx="217.04" cy="406.49" r="1.7" fill="#1d5c96"/><circle cx="78.14" cy="409.79" r="1.6" fill="#c8102e"/><circle cx="97.98" cy="406.30" r="1.6" fill="#c8102e"/><circle cx="117.83" cy="418.79" r="1.6" fill="#c8102e"/><circle cx="137.67" cy="415.56" r="1.6" fill="#c8102e"/><circle cx="177.35" cy="412.29" r="1.6" fill="#c8102e"/><circle cx="217.04" cy="412.98" r="1.6" fill="#c8102e"/>
<circle cx="58.30" cy="410.95" r="1.7" fill="#c8102e"/>
<text x="281.20" y="352.20" font-size="10.6" font-weight="bold" fill="#111" textLength="6.48" lengthAdjust="spacingAndGlyphs">F</text>
<text x="339.20" y="354.40" font-size="7.6" font-weight="bold" fill="#111" textLength="97.58" lengthAdjust="spacingAndGlyphs">QLQ-C30 social functioning</text>
<path d="M309.20 356.50V468.40" stroke="#333333" stroke-width="1.5" fill="none"/>
<path d="M306.20 465.40H309.20" stroke="#333333" stroke-width="1" fill="none"/>
<text x="290.18" y="468.30" font-size="8.6" fill="#333" stroke="#333" stroke-width="0.06" textLength="13.13" lengthAdjust="spacingAndGlyphs">−15</text>
<path d="M306.20 454.51H309.20" stroke="#333333" stroke-width="1" fill="none"/>
<text x="290.18" y="457.41" font-size="8.6" fill="#333" stroke="#333" stroke-width="0.06" textLength="13.13" lengthAdjust="spacingAndGlyphs">−12</text>
<path d="M306.20 443.62H309.20" stroke="#333333" stroke-width="1" fill="none"/>
<text x="294.48" y="446.52" font-size="8.6" fill="#333" stroke="#333" stroke-width="0.06" textLength="8.82" lengthAdjust="spacingAndGlyphs">−9</text>
<path d="M306.20 432.73H309.20" stroke="#333333" stroke-width="1" fill="none"/>
<text x="294.48" y="435.63" font-size="8.6" fill="#333" stroke="#333" stroke-width="0.06" textLength="8.82" lengthAdjust="spacingAndGlyphs">−6</text>
<path d="M306.20 421.84H309.20" stroke="#333333" stroke-width="1" fill="none"/>
<text x="294.48" y="424.74" font-size="8.6" fill="#333" stroke="#333" stroke-width="0.06" textLength="8.82" lengthAdjust="spacingAndGlyphs">−3</text>
<path d="M306.20 410.95H309.20" stroke="#333333" stroke-width="1" fill="none"/>
<text x="299.00" y="413.85" font-size="8.6" fill="#333" stroke="#333" stroke-width="0.06" textLength="4.30" lengthAdjust="spacingAndGlyphs">0</text>
<path d="M306.20 400.06H309.20" stroke="#333333" stroke-width="1" fill="none"/>
<text x="299.00" y="402.96" font-size="8.6" fill="#333" stroke="#333" stroke-width="0.06" textLength="4.30" lengthAdjust="spacingAndGlyphs">3</text>
<path d="M306.20 389.17H309.20" stroke="#333333" stroke-width="1" fill="none"/>
<text x="299.00" y="392.07" font-size="8.6" fill="#333" stroke="#333" stroke-width="0.06" textLength="4.30" lengthAdjust="spacingAndGlyphs">6</text>
<path d="M306.20 378.28H309.20" stroke="#333333" stroke-width="1" fill="none"/>
<text x="299.00" y="381.18" font-size="8.6" fill="#333" stroke="#333" stroke-width="0.06" textLength="4.30" lengthAdjust="spacingAndGlyphs">9</text>
<path d="M306.20 367.39H309.20" stroke="#333333" stroke-width="1" fill="none"/>
<text x="294.71" y="370.29" font-size="8.6" fill="#333" stroke="#333" stroke-width="0.06" textLength="8.61" lengthAdjust="spacingAndGlyphs">12</text>
<path d="M306.20 356.50H309.20" stroke="#333333" stroke-width="1" fill="none"/>
<text x="294.71" y="359.40" font-size="8.6" fill="#333" stroke="#333" stroke-width="0.06" textLength="8.61" lengthAdjust="spacingAndGlyphs">15</text>
<g transform="translate(287.70,410.50) rotate(-90)">
<text x="-46.15" y="0.00" font-size="9.3" fill="#1a1a1a" stroke="#1a1a1a" stroke-width="0.18" textLength="92.29" lengthAdjust="spacingAndGlyphs" word-spacing="1">Mean (SE) change from baseline</text>
</g>
<path d="M308.45 465.40H468.44" stroke="#333333" stroke-width="1.5" fill="none"/>
<path d="M309.20 465.40V468.40" stroke="#333333" stroke-width="1" fill="none"/>
<text x="307.05" y="478.10" font-size="8.6" fill="#333" stroke="#333" stroke-width="0.06" textLength="4.30" lengthAdjust="spacingAndGlyphs">0</text>
<path d="M329.04 465.40V468.40" stroke="#333333" stroke-width="1" fill="none"/>
<text x="326.89" y="478.10" font-size="8.6" fill="#333" stroke="#333" stroke-width="0.06" textLength="4.30" lengthAdjust="spacingAndGlyphs">6</text>
<path d="M348.88 465.40V468.40" stroke="#333333" stroke-width="1" fill="none"/>
<text x="344.59" y="478.10" font-size="8.6" fill="#333" stroke="#333" stroke-width="0.06" textLength="8.61" lengthAdjust="spacingAndGlyphs">12</text>
<path d="M368.73 465.40V468.40" stroke="#333333" stroke-width="1" fill="none"/>
<text x="364.43" y="478.10" font-size="8.6" fill="#333" stroke="#333" stroke-width="0.06" textLength="8.61" lengthAdjust="spacingAndGlyphs">18</text>
<path d="M388.57 465.40V468.40" stroke="#333333" stroke-width="1" fill="none"/>
<text x="384.27" y="478.10" font-size="8.6" fill="#333" stroke="#333" stroke-width="0.06" textLength="8.61" lengthAdjust="spacingAndGlyphs">24</text>
<path d="M408.41 465.40V468.40" stroke="#333333" stroke-width="1" fill="none"/>
<text x="404.11" y="478.10" font-size="8.6" fill="#333" stroke="#333" stroke-width="0.06" textLength="8.61" lengthAdjust="spacingAndGlyphs">30</text>
<path d="M428.25 465.40V468.40" stroke="#333333" stroke-width="1" fill="none"/>
<text x="423.96" y="478.10" font-size="8.6" fill="#333" stroke="#333" stroke-width="0.06" textLength="8.61" lengthAdjust="spacingAndGlyphs">36</text>
<path d="M448.09 465.40V468.40" stroke="#333333" stroke-width="1" fill="none"/>
<text x="443.80" y="478.10" font-size="8.6" fill="#333" stroke="#333" stroke-width="0.06" textLength="8.61" lengthAdjust="spacingAndGlyphs">42</text>
<path d="M467.94 465.40V468.40" stroke="#333333" stroke-width="1" fill="none"/>
<text x="463.64" y="478.10" font-size="8.6" fill="#333" stroke="#333" stroke-width="0.06" textLength="8.61" lengthAdjust="spacingAndGlyphs">48</text>
<text x="380.72" y="486.80" font-size="9.4" fill="#111" stroke="#111" stroke-width="0.3" textLength="15.66" lengthAdjust="spacingAndGlyphs">Week</text>
<text x="258.30" y="496.50" font-size="6.9" fill="#333" stroke="#333" stroke-width="0.03" textLength="39.79" lengthAdjust="spacingAndGlyphs">Pembrolizumab</text>
<text x="289.81" y="508.00" font-size="6.9" fill="#333" stroke="#333" stroke-width="0.03" textLength="8.28" lengthAdjust="spacingAndGlyphs">BV</text>
<text x="304.13" y="496.50" font-size="6.9" fill="#333" stroke="#333" stroke-width="0.03" textLength="10.13" lengthAdjust="spacingAndGlyphs">134</text>
<text x="304.13" y="508.00" font-size="6.9" fill="#333" stroke="#333" stroke-width="0.03" textLength="10.13" lengthAdjust="spacingAndGlyphs">138</text>
<text x="323.97" y="496.50" font-size="6.9" fill="#333" stroke="#333" stroke-width="0.03" textLength="10.13" lengthAdjust="spacingAndGlyphs">130</text>
<text x="323.97" y="508.00" font-size="6.9" fill="#333" stroke="#333" stroke-width="0.03" textLength="10.13" lengthAdjust="spacingAndGlyphs">126</text>
<text x="343.81" y="496.50" font-size="6.9" fill="#333" stroke="#333" stroke-width="0.03" textLength="10.13" lengthAdjust="spacingAndGlyphs">122</text>
<text x="344.04" y="508.00" font-size="6.9" fill="#333" stroke="#333" stroke-width="0.03" textLength="9.68" lengthAdjust="spacingAndGlyphs">116</text>
<text x="363.66" y="496.50" font-size="6.9" fill="#333" stroke="#333" stroke-width="0.03" textLength="10.13" lengthAdjust="spacingAndGlyphs">105</text>
<text x="365.36" y="508.00" font-size="6.9" fill="#333" stroke="#333" stroke-width="0.03" textLength="6.75" lengthAdjust="spacingAndGlyphs">86</text>
<text x="385.20" y="496.50" font-size="6.9" fill="#333" stroke="#333" stroke-width="0.03" textLength="6.75" lengthAdjust="spacingAndGlyphs">93</text>
<text x="385.20" y="508.00" font-size="6.9" fill="#333" stroke="#333" stroke-width="0.03" textLength="6.75" lengthAdjust="spacingAndGlyphs">64</text>
<text x="424.88" y="496.50" font-size="6.9" fill="#333" stroke="#333" stroke-width="0.03" textLength="6.75" lengthAdjust="spacingAndGlyphs">86</text>
<text x="424.88" y="508.00" font-size="6.9" fill="#333" stroke="#333" stroke-width="0.03" textLength="6.75" lengthAdjust="spacingAndGlyphs">41</text>
<text x="464.57" y="497.60" font-size="6.9" fill="#333" stroke="#333" stroke-width="0.03" textLength="6.75" lengthAdjust="spacingAndGlyphs">68</text>
<text x="464.57" y="508.00" font-size="6.9" fill="#333" stroke="#333" stroke-width="0.03" textLength="6.75" lengthAdjust="spacingAndGlyphs">26</text>
<path d="M310.20 410.95H467.94" stroke="#b4b4b4" stroke-width="1.3" stroke-dasharray="3.1 3.1" fill="none"/>
<path d="M476.00 402.95V418.95" stroke="#111" stroke-width="2.6" fill="none"/>
<path d="M473.00 403.45L476.00 399.75L479.00 403.45Z" fill="#111"/>
<path d="M473.00 418.45L476.00 422.15L479.00 418.45Z" fill="#111"/>
<text x="479.30" y="407.95" font-size="6.4" fill="#333" stroke="#333" stroke-width="0.1" textLength="33.80" lengthAdjust="spacingAndGlyphs">Improvement</text>
<text x="479.30" y="416.95" font-size="6.4" fill="#333" stroke="#333" stroke-width="0.1" textLength="19.60" lengthAdjust="spacingAndGlyphs">Decline</text>
<path d="M313.60 452.30h10" stroke="#c8102e" stroke-width="1.3"/>
<circle cx="318.40" cy="452.30" r="1.6" fill="#c8102e"/>
<path d="M313.60 458.70h10" stroke="#1d5c96" stroke-width="1.6" stroke-dasharray="1 2 4.6 2 1"/>
<circle cx="318.40" cy="458.70" r="1.9" fill="#1d5c96"/>
<text x="326.60" y="453.20" font-size="7.7" fill="#333" stroke="#333" stroke-width="0.1" textLength="46.58" lengthAdjust="spacingAndGlyphs">Pembrolizumab</text>
<text x="326.60" y="460.20" font-size="7.7" fill="#333" stroke="#333" stroke-width="0.1" textLength="8.89" lengthAdjust="spacingAndGlyphs">BV</text>
<path d="M329.04 394.62V409.32M325.74 394.62h6.6M325.74 409.32h6.6" stroke="#1d5c96" stroke-width="1.2" fill="none"/><path d="M348.88 394.62V411.68M345.58 394.62h6.6M345.58 411.68h6.6" stroke="#1d5c96" stroke-width="1.2" fill="none"/><path d="M368.73 402.96V422.02M365.43 402.96h6.6M365.43 422.02h6.6" stroke="#1d5c96" stroke-width="1.2" fill="none"/><path d="M388.57 390.33V410.95M385.27 390.33h6.6M385.27 410.95h6.6" stroke="#1d5c96" stroke-width="1.2" fill="none"/><path d="M428.25 399.70V430.55M424.95 399.70h6.6M424.95 430.55h6.6" stroke="#1d5c96" stroke-width="1.2" fill="none"/><path d="M467.94 388.44V423.47M464.64 388.44h6.6M464.64 423.47h6.6" stroke="#1d5c96" stroke-width="1.2" fill="none"/><path d="M329.04 387.72V401.00M325.74 387.72h6.6M325.74 401.00h6.6" stroke="#c8102e" stroke-width="1.2" fill="none"/><path d="M348.88 387.72V401.51M345.58 387.72h6.6M345.58 401.51h6.6" stroke="#c8102e" stroke-width="1.2" fill="none"/><path d="M368.73 385.90V401.88M365.43 385.90h6.6M365.43 401.88h6.6" stroke="#c8102e" stroke-width="1.2" fill="none"/><path d="M388.57 382.27V399.33M385.27 382.27h6.6M385.27 399.33h6.6" stroke="#c8102e" stroke-width="1.2" fill="none"/><path d="M428.25 383.36V400.24M424.95 383.36h6.6M424.95 400.24h6.6" stroke="#c8102e" stroke-width="1.2" fill="none"/><path d="M467.94 387.17V402.60M464.64 387.17h6.6M464.64 402.60h6.6" stroke="#c8102e" stroke-width="1.2" fill="none"/><path d="M309.20 410.95 L332.04 401.29 L348.88 403.69 L368.73 412.04 L388.57 400.60 L428.25 415.31 L467.94 406.05" stroke="#1d5c96" stroke-width="1.45" fill="none" stroke-dasharray="4.5 2.6" stroke-dashoffset="5.0" stroke-linejoin="round"/><path d="M309.20 410.95 L329.04 394.62 L348.88 394.62 L368.73 394.00 L388.57 390.33 L428.25 392.00 L467.94 394.69" stroke="#c8102e" stroke-width="1.3" fill="none" stroke-linejoin="round"/><circle cx="332.04" cy="401.29" r="1.7" fill="#1d5c96"/><circle cx="348.88" cy="403.69" r="1.7" fill="#1d5c96"/><circle cx="368.73" cy="412.04" r="1.7" fill="#1d5c96"/><circle cx="388.57" cy="400.60" r="1.7" fill="#1d5c96"/><circle cx="428.25" cy="415.31" r="1.7" fill="#1d5c96"/><circle cx="467.94" cy="406.05" r="1.7" fill="#1d5c96"/><circle cx="329.04" cy="394.62" r="1.6" fill="#c8102e"/><circle cx="348.88" cy="394.62" r="1.6" fill="#c8102e"/><circle cx="368.73" cy="394.00" r="1.6" fill="#c8102e"/><circle cx="388.57" cy="390.33" r="1.6" fill="#c8102e"/><circle cx="428.25" cy="392.00" r="1.6" fill="#c8102e"/><circle cx="467.94" cy="394.69" r="1.6" fill="#c8102e"/>
<circle cx="309.20" cy="410.95" r="1.7" fill="#c8102e"/>
<rect x="0.5" y="0.5" width="519" height="513" fill="none" stroke="#131313" stroke-width="1.2"/>
</svg></body></html>
